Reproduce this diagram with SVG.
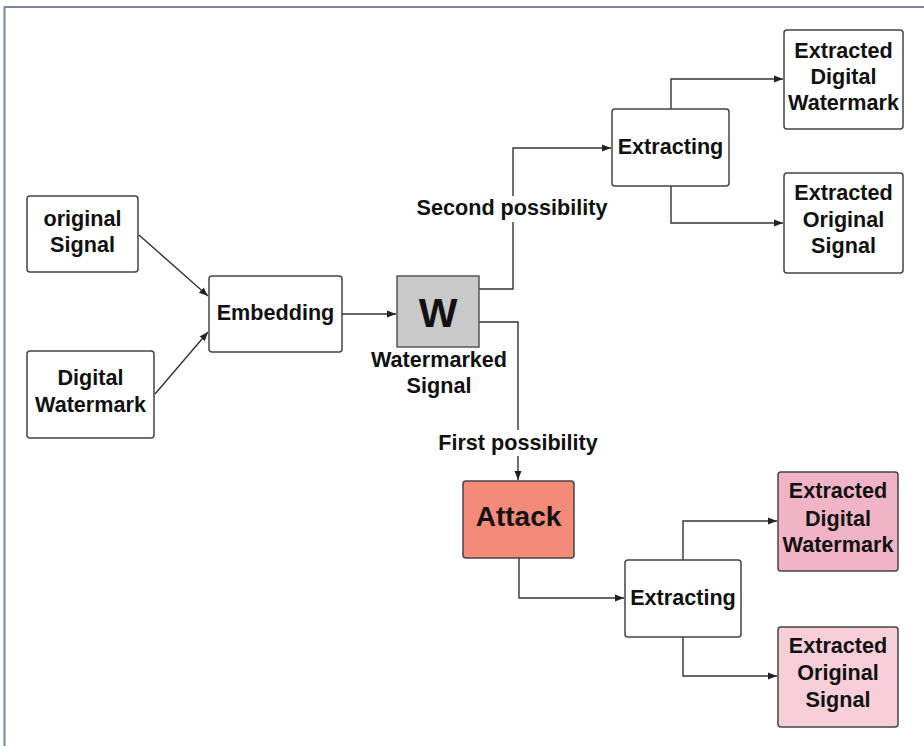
<svg xmlns="http://www.w3.org/2000/svg" width="924" height="746" viewBox="0 0 924 746">
<defs>
<marker id="arr" markerWidth="10" markerHeight="8" refX="9" refY="4" orient="auto" markerUnits="userSpaceOnUse">
<path d="M0,0.5 L9,4 L0,7.5 Z" fill="#222"/>
</marker>
<style>
.box{fill:#fff;stroke:#444;stroke-width:1.5}
.t{font-family:"Liberation Sans",Arial,sans-serif;font-weight:bold;font-size:21.6px;fill:#111;text-anchor:middle}
.c{fill:none;stroke:#333;stroke-width:1.4;marker-end:url(#arr)}
.lbl{fill:#fff}
</style>
</defs>
<rect width="924" height="746" fill="#fff"/>
<path d="M4.5,746 V7 H924" fill="none" stroke="#7a869a" stroke-width="2"/>
<g id="connectors">
<path class="c" d="M139,235 L208,296"/>
<path class="c" d="M155,394 L208,332"/>
<path class="c" d="M342,314 H396"/>
<path class="c" d="M479,289 H513 V148 H611"/>
<path class="c" d="M479,322 H518 V480"/>
<path class="c" d="M671,109 V79 H783"/>
<path class="c" d="M671,186 V223 H783"/>
<path class="c" d="M519,558 V598 H624"/>
<path class="c" d="M683,560 V521 H777"/>
<path class="c" d="M683,637 V676 H777"/>
</g>
<g id="label-second">
<rect class="lbl" x="414" y="196" width="198" height="26"/>
<text class="t" x="512" y="215">Second possibility</text>
</g>
<g id="label-first">
<rect class="lbl" x="436" y="430" width="166" height="26"/>
<text class="t" x="518" y="450">First possibility</text>
</g>
<g id="original-signal">
<rect class="box" x="27" y="196" width="111" height="76" rx="3"/>
<text class="t" x="82.5" y="226">original</text>
<text class="t" x="82.5" y="252">Signal</text>
</g>
<g id="digital-watermark">
<rect class="box" x="27" y="351" width="127" height="87" rx="3"/>
<text class="t" x="90.5" y="385">Digital</text>
<text class="t" x="90.5" y="412">Watermark</text>
</g>
<g id="embedding">
<rect class="box" x="209" y="276" width="133" height="76" rx="3"/>
<text class="t" x="275.5" y="320">Embedding</text>
</g>
<g id="watermarked">
<rect x="397" y="276" width="82" height="71" fill="#c9c9c9" stroke="#555" stroke-width="1.5"/>
<text class="t" x="438" y="327" style="font-size:41px">W</text>
<text class="t" x="439" y="367">Watermarked</text>
<text class="t" x="439" y="393">Signal</text>
</g>
<g id="extracting1">
<rect class="box" x="612" y="109" width="117" height="77" rx="3"/>
<text class="t" x="670.5" y="154">Extracting</text>
</g>
<g id="edw1">
<rect class="box" x="784" y="30" width="119" height="99" rx="3"/>
<text class="t" x="843.5" y="58">Extracted</text>
<text class="t" x="843.5" y="84">Digital</text>
<text class="t" x="843.5" y="110">Watermark</text>
</g>
<g id="eos1">
<rect class="box" x="784" y="173" width="119" height="100" rx="3"/>
<text class="t" x="843.5" y="200">Extracted</text>
<text class="t" x="843.5" y="227">Original</text>
<text class="t" x="843.5" y="253">Signal</text>
</g>
<g id="attack">
<rect x="463" y="481" width="111" height="77" rx="3" fill="#f48a78" stroke="#444" stroke-width="1.5"/>
<text class="t" x="518.5" y="526" style="font-size:28px">Attack</text>
</g>
<g id="extracting2">
<rect class="box" x="625" y="560" width="116" height="77" rx="3"/>
<text class="t" x="683" y="605">Extracting</text>
</g>
<g id="edw2">
<rect x="778" y="472" width="120" height="99" rx="3" fill="#f1b4c7" stroke="#444" stroke-width="1.5"/>
<text class="t" x="838" y="498">Extracted</text>
<text class="t" x="838" y="526">Digital</text>
<text class="t" x="838" y="552">Watermark</text>
</g>
<g id="eos2">
<rect x="778" y="627" width="120" height="100" rx="3" fill="#f8ced9" stroke="#444" stroke-width="1.5"/>
<text class="t" x="838" y="653">Extracted</text>
<text class="t" x="838" y="680">Original</text>
<text class="t" x="838" y="707">Signal</text>
</g>
</svg>
